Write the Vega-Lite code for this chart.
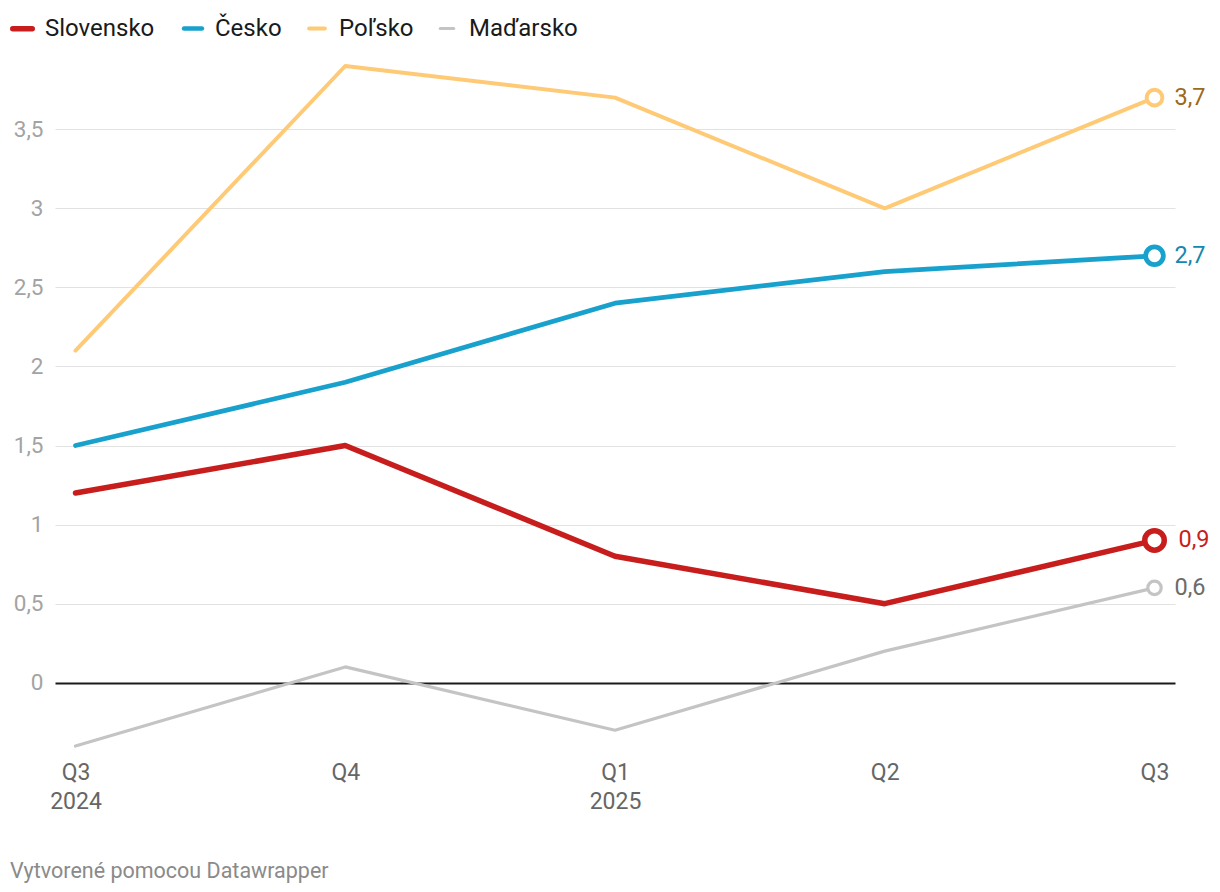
{
  "$schema": "https://vega.github.io/schema/vega-lite/v6.json",
  "width": 1120,
  "height": 680,
  "autosize": "none",
  "padding": {"left": 55, "top": 66, "right": 45, "bottom": 146},
  "background": "white",
  "config": {
    "view": {"stroke": null},
    "font": "Roboto",
    "locale": {"number": {"decimal": ",", "thousands": " ", "grouping": [3], "currency": ["", " €"]}}
  },
  "title": {
    "text": "Vytvorené pomocou Datawrapper",
    "orient": "bottom",
    "anchor": "start",
    "frame": "group",
    "dx": -45,
    "offset": 48,
    "font": "Roboto",
    "fontSize": 21.5,
    "fontWeight": "normal",
    "color": "#8a8a8a"
  },
  "data": {
    "values": [
      {"q": "2024-Q3", "krajina": "Slovensko", "v": 1.2},
      {"q": "2024-Q4", "krajina": "Slovensko", "v": 1.5},
      {"q": "2025-Q1", "krajina": "Slovensko", "v": 0.8},
      {"q": "2025-Q2", "krajina": "Slovensko", "v": 0.5},
      {"q": "2025-Q3", "krajina": "Slovensko", "v": 0.9},
      {"q": "2024-Q3", "krajina": "Česko", "v": 1.5},
      {"q": "2024-Q4", "krajina": "Česko", "v": 1.9},
      {"q": "2025-Q1", "krajina": "Česko", "v": 2.4},
      {"q": "2025-Q2", "krajina": "Česko", "v": 2.6},
      {"q": "2025-Q3", "krajina": "Česko", "v": 2.7},
      {"q": "2024-Q3", "krajina": "Poľsko", "v": 2.1},
      {"q": "2024-Q4", "krajina": "Poľsko", "v": 3.9},
      {"q": "2025-Q1", "krajina": "Poľsko", "v": 3.7},
      {"q": "2025-Q2", "krajina": "Poľsko", "v": 3.0},
      {"q": "2025-Q3", "krajina": "Poľsko", "v": 3.7},
      {"q": "2024-Q3", "krajina": "Maďarsko", "v": -0.4},
      {"q": "2024-Q4", "krajina": "Maďarsko", "v": 0.1},
      {"q": "2025-Q1", "krajina": "Maďarsko", "v": -0.3},
      {"q": "2025-Q2", "krajina": "Maďarsko", "v": 0.2},
      {"q": "2025-Q3", "krajina": "Maďarsko", "v": 0.6}
    ]
  },
  "encoding": {
    "x": {
      "field": "q",
      "type": "nominal",
      "sort": null,
      "scale": {"type": "point", "padding": 0.076},
      "axis": {
        "title": null,
        "domain": false,
        "ticks": false,
        "grid": false,
        "labelAngle": 0,
        "labelFont": "Roboto",
        "labelFontSize": 23,
        "labelColor": "#666666",
        "labelPadding": 15,
        "labelLineHeight": 29,
        "labelBaseline": "top",
        "labelExpr": "datum.value == '2024-Q3' ? ['Q3', '2024'] : datum.value == '2025-Q1' ? ['Q1', '2025'] : split(datum.value, '-')[1]"
      }
    },
    "y": {
      "field": "v",
      "type": "quantitative",
      "scale": {"domain": [-0.4, 3.9], "nice": false, "zero": false},
      "axis": {
        "title": null,
        "domain": false,
        "ticks": false,
        "values": [0, 0.5, 1, 1.5, 2, 2.5, 3, 3.5],
        "format": ",.1~f",
        "labelFont": "Roboto",
        "labelFontSize": 22.5,
        "labelColor": "#a3a3a3",
        "labelPadding": 12,
        "labelAlign": "right",
        "gridColor": {"condition": {"test": "datum.value === 0", "value": "#1a1a1a"}, "value": "#e2e2e2"},
        "gridWidth": {"condition": {"test": "datum.value === 0", "value": 2}, "value": 1.2}
      }
    }
  },
  "layer": [
    {
      "mark": {"type": "line", "strokeCap": "round", "strokeJoin": "round"},
      "encoding": {
        "color": {
          "field": "krajina",
          "type": "nominal",
          "scale": {
            "domain": ["Slovensko", "Česko", "Poľsko", "Maďarsko"],
            "range": ["#c71e1d", "#18a1cd", "#ffca76", "#c4c4c4"]
          },
          "legend": {
            "title": null,
            "orient": "none",
            "direction": "horizontal",
            "legendX": -45,
            "legendY": -50,
            "symbolType": "stroke",
            "symbolSize": 841,
            "symbolStrokeWidth": 6,
            "labelFont": "Roboto",
            "labelFontSize": 24,
            "labelColor": "#1a1a1a",
            "labelOffset": 10,
            "columnPadding": 19,
            "encode": {"symbols": {"update": {"strokeCap": {"value": "round"}}}}
          }
        },
        "strokeWidth": {
          "field": "krajina",
          "type": "nominal",
          "scale": {"domain": ["Slovensko", "Česko", "Poľsko", "Maďarsko"], "range": [5.5, 3.2, 3.2, 3.2]},
          "legend": null
        }
      }
    },
    {
      "transform": [{"filter": "datum.q == '2025-Q3'"}],
      "mark": {"type": "point", "shape": "circle", "filled": false, "fill": "white", "opacity": 1},
      "encoding": {
        "color": {"field": "krajina", "type": "nominal"},
        "size": {
          "field": "krajina",
          "type": "nominal",
          "scale": {"domain": ["Slovensko", "Česko", "Poľsko", "Maďarsko"], "range": [380, 180, 180, 180]},
          "legend": null
        },
        "strokeWidth": {"field": "krajina", "type": "nominal"}
      }
    },
    {
      "transform": [{"filter": "datum.q == '2025-Q3' && datum.krajina != 'Slovensko'"}],
      "mark": {"type": "text", "align": "left", "baseline": "middle", "dx": 20, "font": "Roboto", "fontSize": 23.5},
      "encoding": {
        "text": {"field": "v", "type": "quantitative", "format": ",.1f"},
        "fill": {
          "field": "krajina",
          "type": "nominal",
          "scale": {
            "domain": ["Slovensko", "Česko", "Poľsko", "Maďarsko"],
            "range": ["#c71e1d", "#1588b0", "#9c6a1c", "#6b6b6b"]
          },
          "legend": null
        }
      }
    },
    {
      "transform": [{"filter": "datum.q == '2025-Q3' && datum.krajina == 'Slovensko'"}],
      "mark": {"type": "text", "align": "left", "baseline": "middle", "dx": 24, "font": "Roboto", "fontSize": 23.5},
      "encoding": {
        "text": {"field": "v", "type": "quantitative", "format": ",.1f"},
        "fill": {"field": "krajina", "type": "nominal"}
      }
    }
  ]
}
